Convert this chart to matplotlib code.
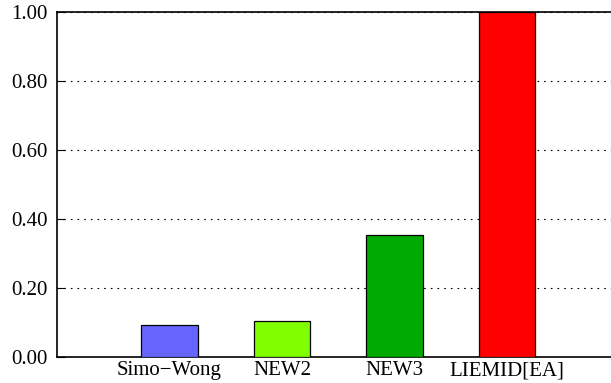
import matplotlib.pyplot as plt

# relative scores per method
methods = ['Simo\u2212Wong', 'NEW2', 'NEW3', 'LIEMID[EA]']
scores = [0.092, 0.105, 0.355, 1.0]
colors = ['#6666ff', '#7fff00', '#00aa00', '#ff0000']
yticks = [0.0, 0.2, 0.4, 0.6, 0.8, 1.0]

plt.rcParams['font.family'] = ['Liberation Serif', 'DejaVu Serif']
plt.rcParams['font.size'] = 15

fig = plt.figure(figsize=(6.11, 3.83), dpi=100)
W, H = 611, 383
ax = fig.add_axes([57 / W, 1 - 357 / H, (619.5 - 57) / W, (357 - 12) / H])

pos = [1, 2, 3, 4]
ax.bar(pos, scores, width=0.5, color=colors, edgecolor='black', linewidth=0.9, zorder=3)

ax.set_xlim(0, 5)
ax.set_ylim(0, 1.0)
ax.set_xticks(pos)
ax.set_xticklabels(methods)
ax.set_yticks(yticks)
ax.set_yticklabels(['%.2f' % v for v in yticks])
ax.tick_params(axis='x', length=0, pad=3)
ax.tick_params(axis='y', direction='in', length=6, width=0.8, pad=7)
ax.yaxis.grid(True, linestyle=(0, (1.5, 4.5)), color='black', linewidth=0.8)
for s in ax.spines.values():
    s.set_linewidth(1.2)

fig.savefig('out.png', dpi=100)
